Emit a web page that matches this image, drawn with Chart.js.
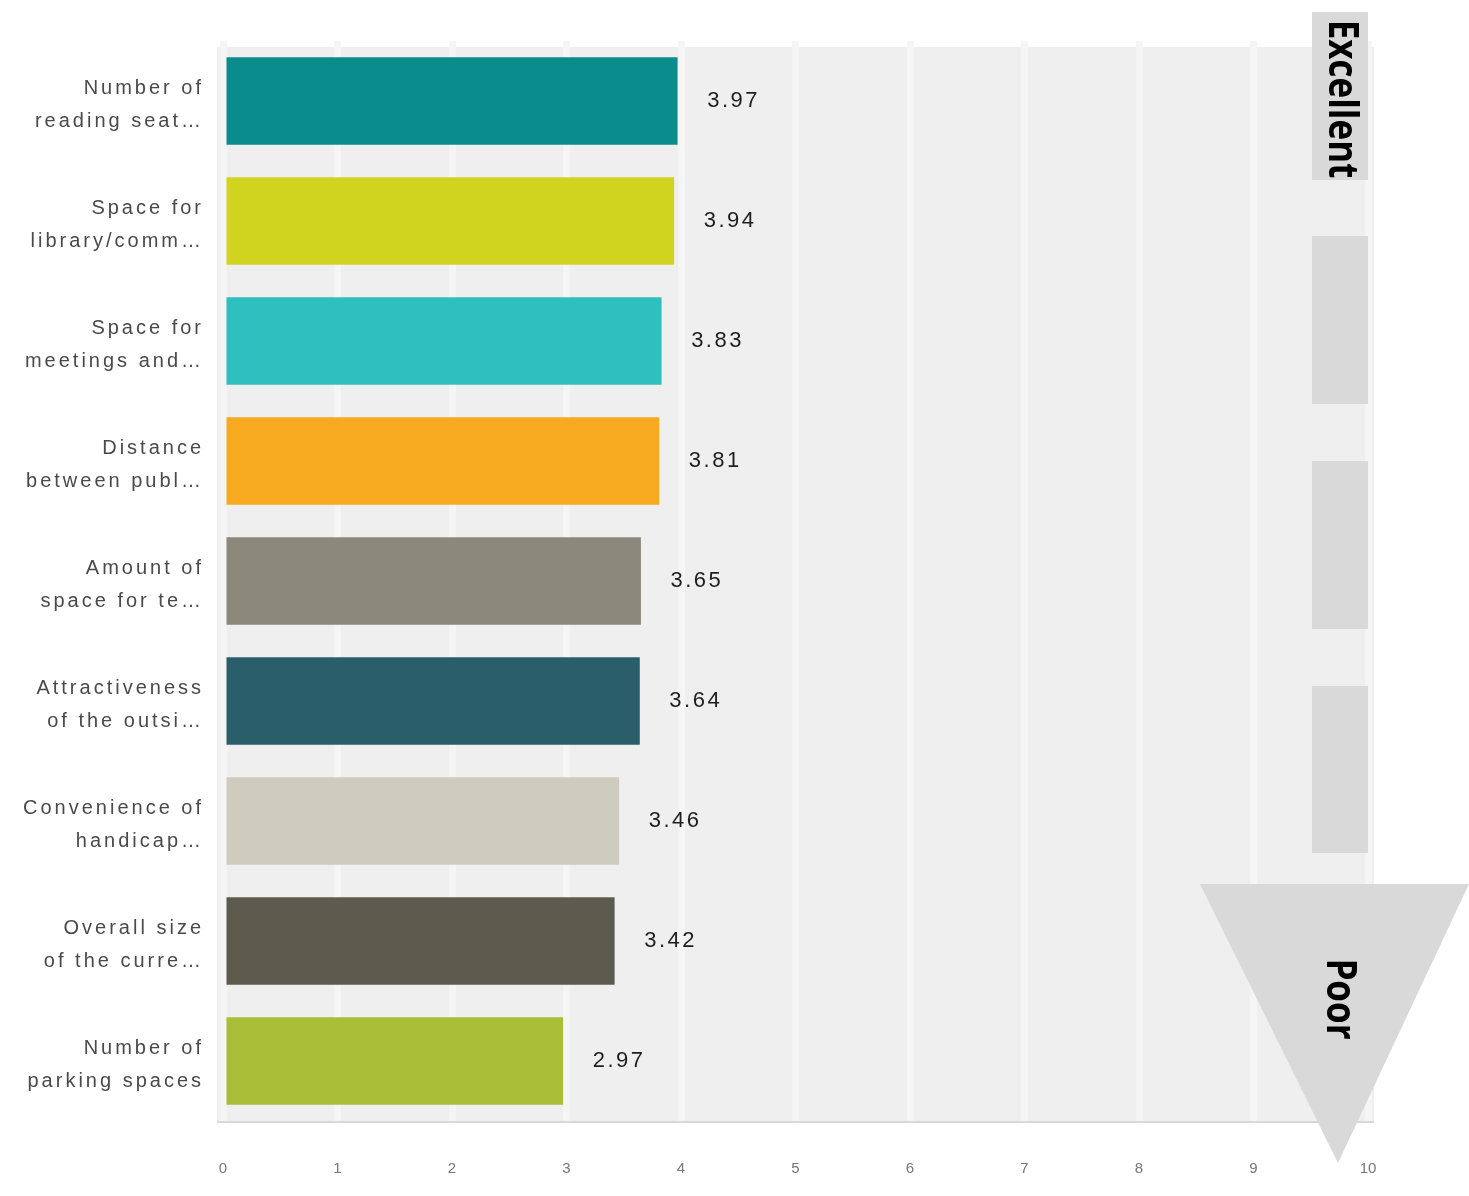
<!DOCTYPE html>
<html>
<head>
<meta charset="utf-8">
<script src="https://cdn.jsdelivr.net/npm/chart.js@4/dist/chart.umd.min.js"></script>
<style>
  html, body { margin: 0; padding: 0; background: #fff; }
  #wrap { width: 1469px; height: 1196px; position: relative; }
</style>
</head>
<body>
<div id="wrap"><canvas id="chart"></canvas></div>
<script>
const categories = [
  ['Number of', 'reading seat…'],
  ['Space for', 'library/comm…'],
  ['Space for', 'meetings and…'],
  ['Distance', 'between publ…'],
  ['Amount of', 'space for te…'],
  ['Attractiveness', 'of the outsi…'],
  ['Convenience of', 'handicap…'],
  ['Overall size', 'of the curre…'],
  ['Number of', 'parking spaces']
];
const scores = [3.97, 3.94, 3.83, 3.81, 3.65, 3.64, 3.46, 3.42, 2.97];
const barColors = ['#0a8b8c', '#d0d41f', '#2ec0be', '#f7aa1f', '#8b897b', '#2b5e6b', '#cecbbf', '#5c5b4d', '#aabd37'];
const xTicks = [0, 1, 2, 3, 4, 5, 6, 7, 8, 9, 10];

// plot background and bottom rule
const backdrop = {
  id: 'backdrop',
  beforeDraw(chart) {
    const { ctx, chartArea: a } = chart;
    ctx.save();
    ctx.fillStyle = '#efefef';
    ctx.fillRect(a.left - 6, a.top + 6, a.right - a.left + 12, a.bottom - a.top - 6);
    ctx.fillStyle = '#d8d8d8';
    ctx.fillRect(a.left - 6, a.bottom, a.right - a.left + 12, 2);
    ctx.restore();
  },
  afterLayout(chart) {
    // category labels are drawn with wide letter spacing, a bit lower
    const y = chart.scales.y;
    if (y._spaced) return;
    const orig = y.drawLabels.bind(y);
    y.drawLabels = (area) => {
      chart.ctx.save();
      chart.ctx.letterSpacing = '3px';
      chart.ctx.translate(0, 4);
      orig(area);
      chart.ctx.restore();
    };
    y._spaced = true;
  }
};

// numbers to the right of each bar
const valueLabels = {
  id: 'valueLabels',
  afterDatasetsDraw(chart) {
    const { ctx } = chart;
    const meta = chart.getDatasetMeta(0);
    ctx.save();
    ctx.letterSpacing = '2.5px';
    ctx.font = '22px "Liberation Sans", Arial, sans-serif';
    ctx.fillStyle = '#1e1e1e';
    ctx.textAlign = 'center';
    ctx.textBaseline = 'middle';
    meta.data.forEach((bar, i) => {
      ctx.fillText(scores[i].toFixed(2), bar.x + 56, bar.y);
    });
    ctx.restore();
  }
};

// Excellent / Poor scale marker on the right
const ratingMarker = {
  id: 'ratingMarker',
  afterDraw(chart) {
    const { ctx } = chart;
    ctx.save();
    ctx.fillStyle = '#d9d9d9';
    ctx.fillRect(1312, 12, 56, 168);
    ctx.fillRect(1312, 236, 56, 168);
    ctx.fillRect(1312, 461, 56, 168);
    ctx.fillRect(1312, 686, 56, 167);
    ctx.beginPath();
    ctx.moveTo(1200, 884);
    ctx.lineTo(1469, 884);
    ctx.lineTo(1338, 1163);
    ctx.closePath();
    ctx.fill();

    ctx.fillStyle = '#000';
    ctx.font = 'bold 35px "Open Sans", sans-serif';
    ctx.textAlign = 'center';
    ctx.textBaseline = 'middle';
    ctx.save();
    ctx.translate(1340, 99);
    ctx.rotate(Math.PI / 2);
    ctx.scale(1, 1.15);
    ctx.fillText('Excellent', 0, 0);
    ctx.restore();
    ctx.save();
    ctx.translate(1338, 999);
    ctx.rotate(Math.PI / 2);
    ctx.scale(1, 1.15);
    ctx.fillText('Poor', 0, 0);
    ctx.restore();
    ctx.restore();
  }
};

new Chart(document.getElementById('chart'), {
  type: 'bar',
  data: {
    labels: categories,
    datasets: [{
      data: scores,
      backgroundColor: barColors,
      barPercentage: 0.73,
      categoryPercentage: 1
    }]
  },
  options: {
    indexAxis: 'y',
    responsive: true,
    maintainAspectRatio: false,
    animation: false,
    layout: { padding: { top: 41, right: 101, bottom: 0, left: 0 } },
    plugins: { legend: { display: false }, tooltip: { enabled: false } },
    scales: {
      x: {
        min: 0,
        max: 10,
        afterBuildTicks(scale) { scale.ticks = xTicks.map(v => ({ value: v })); },
        afterFit(scale) {
          scale.height = 75;
          scale.paddingLeft = 0;
          scale.paddingRight = 0;
        },
        grid: { color: '#f5f5f5', lineWidth: 7, drawTicks: false },
        border: { display: false },
        ticks: {
          padding: 39,
          color: '#777',
          font: { family: '"Liberation Sans", Arial, sans-serif', size: 15 }
        }
      },
      y: {
        afterFit(scale) {
          scale.width = 223;
          scale.paddingTop = 0;
          scale.paddingBottom = 0;
        },
        grid: { display: false },
        border: { display: false },
        ticks: {
          padding: 11,
          color: '#4a4a4a',
          font: { family: '"Liberation Sans", Arial, sans-serif', size: 20, lineHeight: 1.65 }
        }
      }
    }
  },
  plugins: [backdrop, valueLabels, ratingMarker]
});
</script>
</body>
</html>
